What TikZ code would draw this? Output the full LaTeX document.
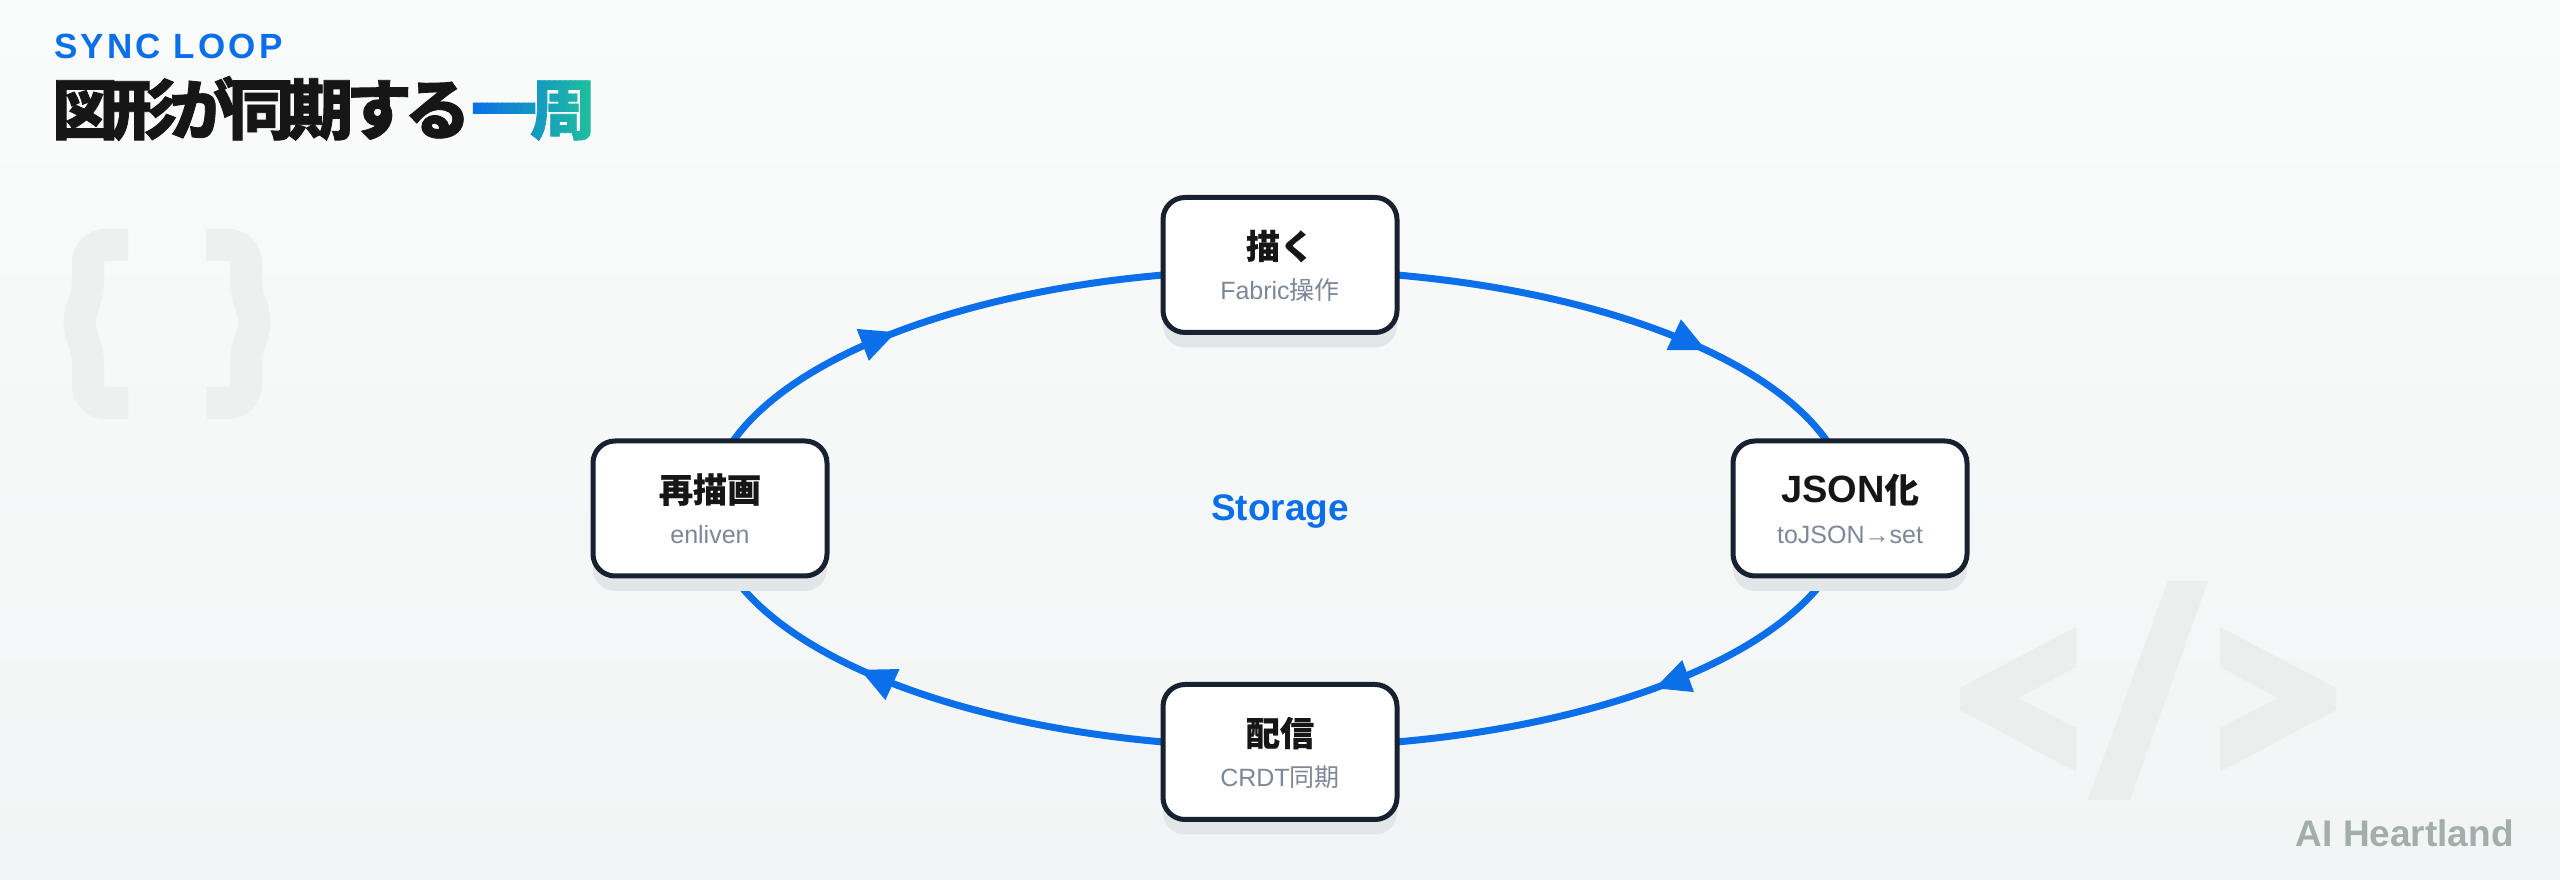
\documentclass[tikz,border=0pt]{standalone}
\usepackage{fontspec}
\usetikzlibrary{arrows.meta,decorations.markings,shadows,calc}

\newfontfamily\jpfont{Noto Sans CJK JP}[BoldFeatures={FakeBold=0.6}]
\newfontfamily\jptitle{Noto Sans CJK JP}[LetterSpace=-11, BoldFeatures={FakeBold=1.2}]
\newfontfamily\sansfont{Liberation Sans}
\newfontfamily\kickerfont{Liberation Sans}[LetterSpace=9]

\newcommand\titlefont{\jptitle\bfseries\fontsize{66}{70}\selectfont}

\definecolor{loopblue}{HTML}{0A6FE8}
\definecolor{tealend}{HTML}{1FC09C}
\definecolor{nodeline}{HTML}{172130}
\definecolor{subgray}{HTML}{7D8797}
\definecolor{shadowgray}{HTML}{E3E6E8}
\definecolor{decogray}{HTML}{ECEEEE}
\definecolor{bracegray}{HTML}{EEF0F0}
\definecolor{brandgray}{HTML}{A3AEAB}
\definecolor{inkblack}{HTML}{161616}
\definecolor{bgtop}{HTML}{FAFBFB}
\definecolor{bgbottom}{HTML}{F2F5F5}

\pgfdeclarelayer{bg}
\pgfsetlayers{bg,main}

\begin{document}
\begin{tikzpicture}[x=1pt, y=1pt,
	stepnode/.style={draw=nodeline, line width=5pt, fill=white, rounded corners=22pt,
		minimum width=234pt, minimum height=135pt, inner sep=0pt,
		drop shadow={shadow xshift=0pt, shadow yshift=-15pt, fill=shadowgray, opacity=1}},
	mainlbl/.style={anchor=base, inner sep=0pt, text=inkblack, font=\jpfont\bfseries\fontsize{34}{40}\selectfont},
	sublbl/.style={anchor=base, inner sep=0pt, text=subgray, font=\sansfont\fontsize{25}{30}\selectfont},
	loopline/.style={draw=loopblue, line width=7pt, postaction={decorate},
		decoration={markings, mark=at position #1 with {\arrow[loopblue]{Triangle[length=36pt,width=32pt]}}}},
	loopline/.default=0.5,
	brace/.style={draw=bracegray, line width=32pt, rounded corners=18pt}]
	\useasboundingbox (0,0) rectangle (2560,880);

	% Heading
	\node [anchor=base west, inner sep=0pt, text=loopblue, font=\kickerfont\bfseries\fontsize{35}{40}\selectfont] (kicker) at (54,821) {SYNC LOOP};
	\node [anchor=base west, inner sep=0pt, text=inkblack, font=\titlefont] (title) at (52,746) {図形が同期する};
	\node [anchor=base west, inner sep=0pt, text opacity=0, font=\titlefont] (isshu) at (title.base east) {一周};
	\foreach \i [evaluate=\i as \p using {int(100-\i*100/23)}] in {0,...,23} {
		\begin{scope}
			\clip ($(isshu.south west)!{\i/24}!(isshu.south east)$) rectangle ($(isshu.north west)!{(\i+1.2)/24}!(isshu.north east)$);
			\node [anchor=base west, inner sep=0pt, text=loopblue!\p!tealend, font=\titlefont] (isshu-\i) at (title.base east) {一周};
		\end{scope}
	}

	% Nodes {paint, json, sync, redraw}
	\node [stepnode] (paint)  at (1280,615)   {};
	\node [stepnode] (json)   at (1850,371.5) {};
	\node [stepnode] (sync)   at (1280,128)   {};
	\node [stepnode] (redraw) at (710,371.5)  {};

	\node [mainlbl] (paint-t)  at ([yshift=6pt]paint.center)  {描く};
	\node [sublbl]  (paint-s)  at ([yshift=-35pt]paint.center) {Fabric{\jpfont 操作}};
	\node [mainlbl] (json-t)   at ([yshift=6pt]json.center)   {{\sansfont\fontsize{38}{40}\selectfont JSON}化};
	\node [sublbl]  (json-s)   at ([yshift=-35pt]json.center)  {toJSON→set};
	\node [mainlbl] (sync-t)   at ([yshift=6pt]sync.center)   {配信};
	\node [sublbl]  (sync-s)   at ([yshift=-35pt]sync.center)  {CRDT{\jpfont 同期}};
	\node [mainlbl] (redraw-t) at ([yshift=6pt]redraw.center) {再描画};
	\node [sublbl]  (redraw-s) at ([yshift=-35pt]redraw.center) {enliven};

	\node [text=loopblue, font=\sansfont\bfseries\fontsize{37}{40}\selectfont] (storage) at (1280,368) {Storage};
	\node [anchor=base east, inner sep=0pt, text=brandgray, font=\sansfont\bfseries\fontsize{37}{40}\selectfont] (brand) at (2514,33) {AI Heartland};

	\begin{pgfonlayer}{bg}
		\shade [top color=bgtop, bottom color=bgbottom] (0,0) rectangle (2560,880);

		% Watermarks
		\draw [brace] (128,635) -- (88,635) -- (88,580) -- (74,558) -- (88,536) -- (88,477) -- (128,477);
		\draw [brace] (206,635) -- (246,635) -- (246,580) -- (260,558) -- (246,536) -- (246,477) -- (206,477);
		\fill [decogray] (2076,253) -- (1960,192) -- (1960,170) -- (2076,108) -- (2076,152) -- (2018,182) -- (2076,213) -- cycle;
		\fill [decogray] (2168,299) -- (2208,299) -- (2130,80) -- (2088,80) -- cycle;
		\fill [decogray] (2220,253) -- (2336,192) -- (2336,170) -- (2220,108) -- (2220,152) -- (2278,182) -- (2220,213) -- cycle;

		% Paths
		\draw [loopline=0.66] ([yshift=-5pt]paint.center) arc [start angle=90, end angle=0, x radius=570, y radius=238.5];
		\draw [loopline=0.425] (json.center) arc [start angle=0, end angle=-90, x radius=570, y radius=238.5];
		\draw [loopline=0.65] ([yshift=5pt]sync.center) arc [start angle=-90, end angle=-180, x radius=570, y radius=238.5];
		\draw [loopline=0.41] (redraw.center) arc [start angle=180, end angle=90, x radius=570, y radius=238.5];
	\end{pgfonlayer}
\end{tikzpicture}
\end{document}
